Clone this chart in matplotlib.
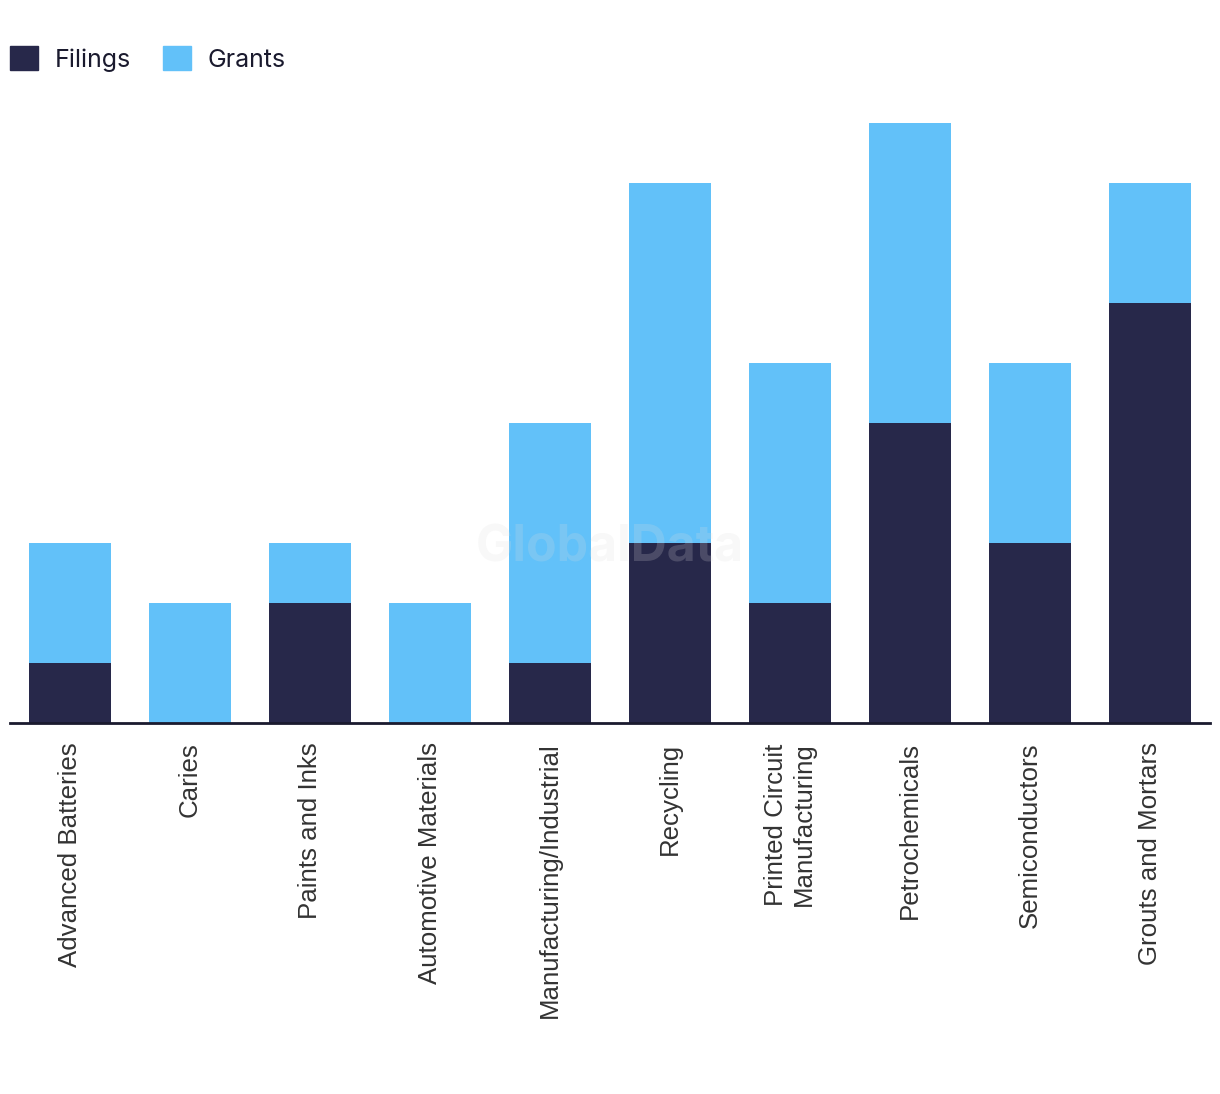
import matplotlib
matplotlib.use("Agg")
import matplotlib.pyplot as plt
import matplotlib.patches as mpatches
import numpy as np

# data
categories = [
    "Advanced Batteries", "Caries", "Paints and Inks", "Automotive Materials",
    "Manufacturing/Industrial", "Recycling", "Printed Circuit\nManufacturing",
    "Petrochemicals", "Semiconductors", "Grouts and Mortars",
]
filings = [1, 0, 2, 0, 1, 3, 2, 5, 3, 7]
grants = [2, 2, 1, 2, 4, 6, 4, 5, 3, 2]

DARK = "#27284a"
LIGHT = "#62c1f9"

W, H = 1220, 1094
fig = plt.figure(figsize=(W / 100, H / 100), dpi=100)
fig.patch.set_facecolor("white")

# axes placed in pixel space: x 10..1210, baseline y=723, value 10 at y=123
ax = fig.add_axes([10 / W, (H - 723) / H, 1200 / W, 600 / H])
x = np.arange(len(categories))
ax.bar(x, filings, width=0.69, color=DARK, zorder=2)
ax.bar(x, grants, width=0.69, bottom=filings, color=LIGHT, zorder=2)

ax.set_xlim(-0.5, len(categories) - 0.5)
ax.set_ylim(0, 10)
ax.set_yticks([])
ax.set_xticks(x)
ax.set_xticklabels(categories, rotation=90, fontsize=18.6, color="#333333",
                   family=["Liberation Sans", "DejaVu Sans"], linespacing=1.2)
ax.tick_params(axis="x", length=0, pad=14)
for s in ["top", "right", "left"]:
    ax.spines[s].set_visible(False)
ax.spines["bottom"].set_color("#1a1a2e")
ax.spines["bottom"].set_linewidth(2)
ax.spines["bottom"].set_zorder(3)

# watermark
ax.text(4.5, 2.92, "GlobalData", ha="center", va="center", fontsize=36,
        fontweight="bold", color="#dcdcdc", alpha=0.2, zorder=4,
        family=["Inter", "DejaVu Sans"])

# legend
handles = [mpatches.Patch(color=DARK, label="Filings"),
           mpatches.Patch(color=LIGHT, label="Grants")]
fig.legend(handles=handles, loc="upper left", bbox_to_anchor=(10 / W, 1 - 46 / H),
           ncol=2, frameon=False, handlelength=1.12, handleheight=1.12,
           handletextpad=0.68, columnspacing=1.25, borderaxespad=0, borderpad=0,
           prop={"family": ["Inter", "DejaVu Sans"], "size": 18},
           labelcolor="#1a1a2e")

fig.savefig("out.png", dpi=100, facecolor="white")
